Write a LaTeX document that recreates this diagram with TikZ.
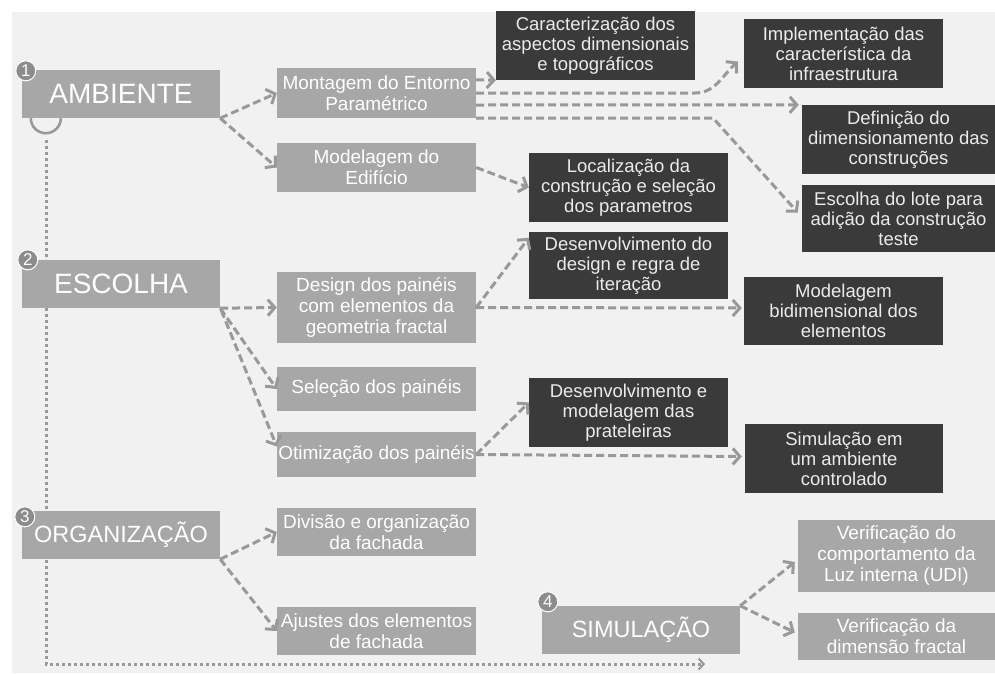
\documentclass[tikz,border=0pt]{standalone}
\usepackage{fontspec}
\setmainfont{Liberation Sans}
\usetikzlibrary{arrows.meta,positioning,calc}
\definecolor{boxgray}{HTML}{A7A7A7}
\definecolor{boxdark}{HTML}{3A3A3A}
\definecolor{linegray}{HTML}{999999}
\definecolor{dotgray}{HTML}{8C8C8C}
\definecolor{paper}{HTML}{F1F1F1}

\begin{document}
\begin{tikzpicture}[x=1pt,y=-1pt,
  stagebox/.style={fill=boxgray,text=white,inner sep=0pt,minimum width=198pt,minimum height=48pt},
  taskbox/.style={fill=boxgray,text=white,inner sep=0pt,minimum width=199pt,align=center,
                  font=\fontsize{19}{21}\selectfont},
  outbox/.style={fill=boxdark,text=white!92!black,inner sep=0pt,minimum width=199pt,align=center,
                 font=\fontsize{18.5}{20}\selectfont},
  stagenum/.style={circle,fill=dotgray,draw=white,line width=1pt,inner sep=0pt,minimum size=20pt,
                   text=white,font=\fontsize{17}{17}\selectfont},
  flow/.style={draw=linegray,line width=3pt,dash pattern=on 8pt off 4pt,
               -{Straight Barb[length=7pt,width=16pt]}},
  track/.style={draw=linegray,line width=3pt,dash pattern=on 3pt off 3pt}]

  % paper
  \fill[white] (0,0) rectangle (995,673);
  \fill[paper] (12,12) rectangle (995,673);

  % time line behind the stages
  \coordinate (trackstart) at (46,140);
  \coordinate (trackend) at (705,664);
  \draw[track,-{Straight Barb[length=5pt,width=11pt,line width=2pt]}] (trackstart) |- (trackend);

  % stages
  \node[stagebox,font=\fontsize{28}{30}\selectfont] (amb) at (121,94) {AMBIENTE};
  \node[stagebox,font=\fontsize{28}{30}\selectfont] (esc) at (121,284) {ESCOLHA};
  \node[stagebox,font=\fontsize{23.5}{26}\selectfont] (org) at (121,535) {ORGANIZAÇÃO};
  \node[stagebox,font=\fontsize{23.5}{26}\selectfont] (sim) at (641,630) {SIMULAÇÃO};
  \draw[linegray,line width=2.6pt] ($(amb.south west)+(9,0)$) arc[start angle=180,end angle=0,radius=15];

  \node[stagenum] (n1) at ($(amb.north west)+(4,1)$) {1};
  \node[stagenum] (n2) at ($(esc.north west)+(6,0)$) {2};
  \node[stagenum] (n3) at ($(org.north west)+(3,6)$) {3};
  \node[stagenum] (n4) at ($(sim.north west)+(6,-4)$) {4};

  % tasks
  \node[taskbox,minimum height=50pt] (mont) at (376.5,93) {Montagem do Entorno\\Paramétrico};
  \node[taskbox,minimum height=49pt] (mod) at (376.5,167.5) {Modelagem do\\Edifício};
  \node[taskbox,minimum height=71pt] (design) at (376.5,307.5) {Design dos painéis\\com elementos da\\geometria fractal};
  \node[taskbox,minimum height=44pt] (sel) at (376.5,389) {Seleção dos painéis};
  \node[taskbox,minimum height=45pt] (otim) at (376.5,454.5) {Otimização dos painéis};
  \node[taskbox,minimum height=48pt] (div) at (376.5,532) {Divisão e organização\\da fachada};
  \node[taskbox,minimum height=48pt] (ajus) at (376.5,631) {Ajustes dos elementos\\de fachada};
  \node[taskbox,minimum width=197pt,minimum height=72pt] (udi) at (896.5,556) {Verificação do\\comportamento da\\Luz interna (UDI)};
  \node[taskbox,minimum width=197pt,minimum height=47pt] (fract) at (896.5,636.5) {Verificação da\\dimensão fractal};

  % outcomes
  \node[outbox,minimum height=69pt] (carac) at (595.5,45.5) {Caracterização dos\\aspectos dimensionais\\e topográficos};
  \node[outbox,minimum height=69pt] (local) at (628.5,187.5) {Localização da\\construção e seleção\\dos parametros};
  \node[outbox,minimum height=69pt] (impl) at (843.5,53.5) {Implementação das\\característica da\\infraestrutura};
  \node[outbox,minimum width=193pt,minimum height=69pt] (defin) at (898.5,139.5) {Definição do\\dimensionamento das\\construções};
  \node[outbox,minimum width=193pt,minimum height=67pt] (lote) at (898.5,218.5) {Escolha do lote para\\adição da construção\\teste};
  \node[outbox,minimum height=67pt] (desdes) at (628.5,265.5) {Desenvolvimento do\\design e regra de\\iteração};
  \node[outbox,minimum height=68pt] (bidim) at (843.5,311) {Modelagem\\bidimensional dos\\elementos};
  \node[outbox,minimum height=69pt] (prat) at (628.5,412.5) {Desenvolvimento e\\modelagem das\\prateleiras};
  \node[outbox,minimum width=198pt,minimum height=69pt] (contr) at (844,458.5) {Simulação em\\um ambiente\\controlado};

  % flows
  \draw[flow] (amb.south east) -- (mont.west);
  \draw[flow] (amb.south east) -- (mod.west);
  \draw[flow] ($(mont.north east)+(0,12)$) -- (carac.south west);
  \draw[flow] (mont.east) -- (695,93) .. controls (715,93) and (722,76) .. ($(impl.west)+(-6,8)$);
  \draw[flow] ($(mont.east)+(0,12)$) -- ($(defin.north west)+(-3,0)$);
  \draw[flow] (mont.south east) -- (713,118) -- ($(lote.west)+(-4,-6)$);
  \draw[flow] (mod.east) -- (local.west);

  \draw[flow] (esc.south east) -- (design.west);
  \draw[flow] (esc.south east) -- (sel.west);
  \draw[flow] ($(esc.south east)+(1,2)$) -- ($(otim.west)+(0,-8)$);
  \draw[flow] (design.east) -- ($(desdes.north west)+(0,6)$);
  \draw[flow] (design.east) -- ($(bidim.west)+(-2,-3)$);
  \draw[flow] (otim.east) -- ($(prat.west)+(0,-10)$);
  \draw[flow] (otim.east) -- ($(contr.west)+(-3,-2)$);

  \draw[flow] (org.south east) -- (div.west);
  \draw[flow] (org.south east) -- (ajus.west);

  \draw[flow] (sim.north east) -- ($(udi.west)+(-3,6)$);
  \draw[flow] (sim.north east) -- ($(fract.west)+(-3,-4)$);
\end{tikzpicture}
\end{document}
